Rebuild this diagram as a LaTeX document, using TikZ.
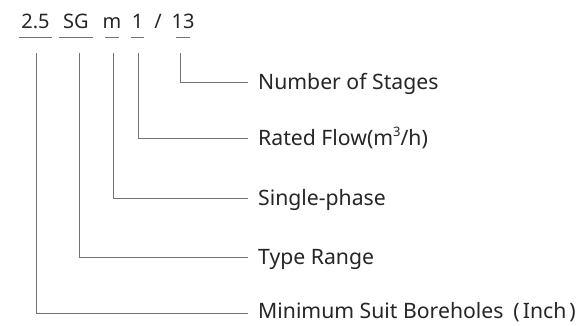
\documentclass[tikz,border=0pt]{standalone}
\usepackage{fontspec}
\setmainfont{Noto Sans}
\begin{document}
\begin{tikzpicture}[x=1pt,y=-1pt,
  lead/.style={draw=black!55, line width=0.9pt},
  code/.style={anchor=base, inner sep=0pt, font=\fontsize{20}{24}\selectfont, text=black!85},
  desc/.style={anchor=base west, inner sep=0pt, font=\fontsize{21.2}{25}\selectfont, text=black!85}]
  \useasboundingbox[fill=white] (0,0) rectangle (579,325);

  % model code
  \node[code] (c25) at (35.5,28) {2.5};
  \node[code] (csg) at (76,28) {SG};
  \node[code] (cm)  at (112,28) {m};
  \node[code] (c1)  at (137.5,28) {1};
  \node[code] (cs)  at (158,28) {/};
  \node[code] (c13) at (183,28) {13};

  % underlines beneath the code parts
  \draw[lead] (19,37) -- (52,37);
  \draw[lead] (59,37) -- (93,37);
  \draw[lead] (105,37) -- (119,37);
  \draw[lead] (131,37) -- (144,37);
  \draw[lead] (176,37) -- (190,37);

  % descriptions
  \node[desc] (d13) at (258,89.5) {Number of Stages};
  \node[desc] (d1)  at (258,145) {Rated Flow(m\raisebox{0.75ex}{\fontsize{13}{13}\selectfont 3}/h)};
  \node[desc] (dm)  at (258,205.5) {Single-phase};
  \node[desc] (dsg) at (258,264.5) {Type Range};
  \node[desc] (d25) at (258,318)
    {Minimum Suit Boreholes\kern10pt(\kern3pt Inch\kern3pt)};

  % leader lines
  \coordinate (e13) at (248,82);
  \coordinate (e1)  at (248,138);
  \coordinate (em)  at (248,198);
  \coordinate (esg) at (248,257);
  \coordinate (e25) at (248,313);
  \draw[lead] (180,53) |- (e13);
  \draw[lead] (138,53) |- (e1);
  \draw[lead] (113,53) |- (em);
  \draw[lead] (79,53)  |- (esg);
  \draw[lead] (36,53)  |- (e25);
\end{tikzpicture}
\end{document}
